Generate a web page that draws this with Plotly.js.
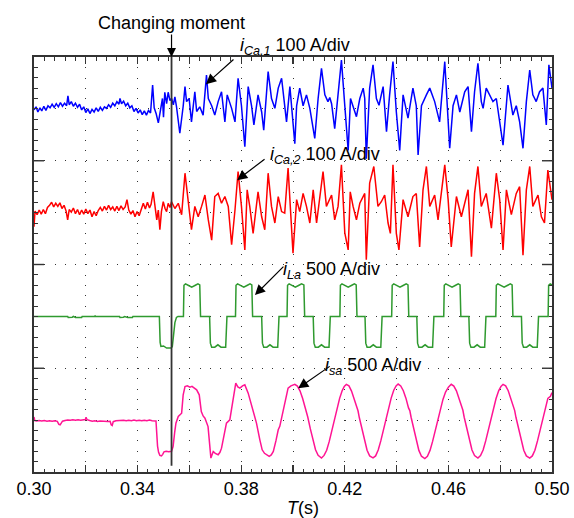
<!DOCTYPE html>
<html><head><meta charset="utf-8">
<script src="https://cdn.plot.ly/plotly-3.0.1.min.js"></script>
<style>html,body{margin:0;padding:0;background:#fff}</style>
</head><body><div id="chart" style="width:574px;height:518px"></div>
<script>
// ---- data (time in s, currents in A) ----
const tChange = 0.3531;

const tCa1 = [0.3000,0.3008,0.3015,0.3023,0.3030,0.3038,0.3046,0.3054,0.3062,0.3070,0.3078,0.3086,0.3094,0.3102,0.3110,0.3118,0.3126,0.3131,0.3136,0.3144,0.3152,0.3160,0.3168,0.3176,0.3184,0.3192,0.3200,0.3208,0.3216,0.3224,0.3232,0.3240,0.3248,0.3256,0.3264,0.3272,0.3280,0.3288,0.3296,0.3304,0.3312,0.3320,0.3328,0.3332,0.3338,0.3346,0.3354,0.3362,0.3370,0.3378,0.3386,0.3394,0.3402,0.3410,0.3418,0.3426,0.3434,0.3442,0.3450,0.3458,0.3464,0.3472,0.3480,0.3488,0.3496,0.3500,0.3505,0.3512,0.3518,0.3525,0.3531,
0.3538,0.3544,0.3550,0.3563,0.3576,0.3583,0.3589,0.3599,0.3608,0.3621,0.3628,0.3640,0.3653,0.3666,0.3673,0.3686,0.3698,0.3711,0.3724,0.3737,0.3746,0.3763,0.3776,0.3788,0.3801,0.3814,0.3827,0.3840,0.3849,0.3865,0.3879,0.3887,0.3904,0.3917,0.3930,0.3943,0.3956,0.3968,0.3975,0.3988,0.4007,0.4014,0.4026,0.4039,0.4052,0.4065,0.4084,0.4097,0.4110,0.4123,0.4135,0.4142,0.4149,0.4161,0.4174,0.4187,0.4200,0.4213,0.4222,0.4232,0.4245,0.4258,0.4271,0.4277,0.4283,0.4296,0.4309,0.4322,0.4332,0.4348,0.4361,0.4373,0.4386,0.4399,0.4412,0.4425,0.4444,0.4463,0.4476,0.4483,0.4496,0.4515,0.4528,0.4547,0.4566,0.4586,0.4599,0.4605,0.4618,0.4631,0.4644,0.4663,0.4676,0.4689,0.4701,0.4714,0.4727,0.4734,0.4746,0.4759,0.4772,0.4785,0.4811,0.4830,0.4849,0.4862,0.4875,0.4888,0.4901,0.4914,0.4926,0.4939,0.4952,0.4965,0.4978,0.4988,0.5000];
const iCa1 = [-2,4,-6,2,-4,5,-3,6,2,9,3,10,4,12,5,11,6,25,8,14,5,11,3,9,-2,4,-7,0,-9,-1,-6,2,-5,3,-3,4,1,8,3,11,6,14,9,20,10,15,6,11,2,6,-5,1,-8,-2,-11,-4,-12,-3,-8,46,2,-10,-27,0,20,-16,32,10,32,16,20,
8,23,5,-47,5,43,14,20,-25,33,-5,4,-12,65,20,6,-12,14,33,-25,27,1,-25,59,6,-73,43,6,-31,27,-6,-41,72,20,1,40,59,1,-25,43,-67,6,40,6,27,1,-57,20,78,27,14,22,10,-38,27,94,6,-80,20,6,-15,20,40,20,-96,40,85,20,7,43,-44,27,91,-6,-80,27,-18,40,6,-89,6,27,40,14,-25,91,-12,-76,6,27,-6,33,43,-44,33,88,14,1,40,27,14,20,-70,46,-12,6,-25,-76,14,75,27,14,33,40,-31,85,40];

const tCa2 = [0.3000,0.3004,0.3012,0.3020,0.3028,0.3036,0.3044,0.3052,0.3060,0.3068,0.3076,0.3084,0.3092,0.3100,0.3108,0.3116,0.3124,0.3130,0.3136,0.3144,0.3152,0.3160,0.3168,0.3176,0.3184,0.3192,0.3200,0.3208,0.3216,0.3224,0.3232,0.3240,0.3248,0.3256,0.3264,0.3272,0.3280,0.3288,0.3296,0.3304,0.3312,0.3320,0.3328,0.3336,0.3344,0.3352,0.3359,0.3366,0.3374,0.3382,0.3390,0.3398,0.3406,0.3414,0.3422,0.3430,0.3438,0.3446,0.3452,0.3460,0.3467,0.3474,0.3480,0.3486,0.3492,0.3499,0.3506,0.3512,0.3518,0.3525,0.3531,
0.3544,0.3557,0.3570,0.3583,0.3595,0.3608,0.3621,0.3634,0.3647,0.3660,0.3673,0.3686,0.3698,0.3711,0.3724,0.3737,0.3750,0.3763,0.3776,0.3788,0.3801,0.3814,0.3823,0.3833,0.3846,0.3865,0.3879,0.3891,0.3904,0.3917,0.3930,0.3943,0.3956,0.3968,0.3981,0.3994,0.4000,0.4014,0.4026,0.4039,0.4052,0.4065,0.4078,0.4091,0.4103,0.4116,0.4129,0.4149,0.4161,0.4174,0.4187,0.4200,0.4213,0.4221,0.4232,0.4245,0.4258,0.4277,0.4283,0.4296,0.4312,0.4328,0.4341,0.4354,0.4367,0.4376,0.4386,0.4399,0.4409,0.4425,0.4444,0.4463,0.4476,0.4489,0.4502,0.4515,0.4528,0.4547,0.4560,0.4586,0.4599,0.4611,0.4631,0.4650,0.4676,0.4689,0.4701,0.4714,0.4727,0.4746,0.4766,0.4785,0.4798,0.4811,0.4824,0.4843,0.4862,0.4875,0.4888,0.4901,0.4914,0.4926,0.4946,0.4959,0.4971,0.4984,0.5000];
const iCa2 = [-27,3,-4,5,-3,6,-2,10,14,20,11,18,12,19,8,14,3,-14,6,1,9,-2,6,-4,5,-3,7,-2,5,-8,2,-6,4,10,3,12,5,14,6,11,3,12,4,13,6,11,25,5,-3,4,-8,2,-6,5,18,7,20,9,16,40,8,-14,5,-33,2,21,8,2,18,10,21,
8,18,-4,76,25,-33,12,-8,12,34,-14,-53,31,37,18,31,12,-62,5,79,12,-72,44,12,-40,40,-8,-33,76,12,-20,31,2,-1,86,-20,-78,25,2,37,12,-20,44,-20,31,79,12,34,-14,12,92,-39,-72,40,12,-14,18,37,-91,57,89,12,21,34,-20,-40,92,-40,-72,25,-8,31,37,-66,44,89,12,34,-14,92,25,-66,31,-8,44,-85,37,89,12,37,-30,76,25,-72,44,-4,37,50,-82,44,89,12,34,-8,-20,82,25];

const tLa = [0.3000,0.3130,0.3132,0.3148,0.3152,0.3160,0.3184,0.3186,0.3235,0.3236,0.3238,0.3330,0.3332,0.3345,0.3350,0.3362,0.3380,0.3382,0.3484,0.3487,0.3490,0.3500,0.3506,0.3512,0.3530,0.3534,0.3538,0.3544,0.3550,0.3556,0.3575,
0.3577,0.3579,0.3585,0.3595,0.3609,0.3623,0.3633,0.3640,0.3643,0.3678,0.3681,0.3686,0.3698,0.3710,0.3722,0.3740,0.3745,
0.3778,0.3780,0.3786,0.3796,0.3810,0.3824,0.3834,0.3841,0.3844,0.3879,0.3882,0.3887,0.3899,0.3911,0.3923,0.3941,0.3946,
0.3977,0.3979,0.3985,0.3995,0.4009,0.4023,0.4033,0.4042,0.4045,0.4078,0.4081,0.4086,0.4098,0.4110,0.4122,0.4139,0.4144,
0.4181,0.4183,0.4189,0.4199,0.4213,0.4227,0.4237,0.4244,0.4247,0.4278,0.4281,0.4286,0.4298,0.4310,0.4322,0.4339,0.4344,
0.4381,0.4383,0.4389,0.4399,0.4413,0.4427,0.4437,0.4444,0.4447,0.4478,0.4481,0.4486,0.4498,0.4510,0.4522,0.4539,0.4544,
0.4582,0.4584,0.4590,0.4600,0.4614,0.4628,0.4638,0.4645,0.4648,0.4679,0.4682,0.4687,0.4699,0.4711,0.4723,0.4740,0.4745,
0.4783,0.4785,0.4791,0.4801,0.4815,0.4829,0.4839,0.4846,0.4849,0.4882,0.4885,0.4890,0.4902,0.4914,0.4926,0.4943,0.4948,
0.4985,0.4987,0.4993,0.5000];
const iLa = [0,0,-10,-8,0,-10,-10,0,0,8,0,0,-10,-8,-2,-10,-10,0,0,-250,-290,-285,-300,-305,-305,-290,-200,-60,-10,0,0,
0,300,313,300,281,300,313,303,0,0,-258,-297,-297,-274,-297,-297,0,
0,300,313,300,281,300,313,303,0,0,-258,-297,-297,-274,-297,-297,0,
0,300,313,300,281,300,313,303,0,0,-258,-297,-297,-274,-297,-297,0,
0,300,313,300,281,300,313,303,0,0,-258,-297,-297,-274,-297,-297,0,
0,300,313,300,281,300,313,303,0,0,-258,-297,-297,-274,-297,-297,0,
0,300,313,300,281,300,313,303,0,0,-258,-297,-297,-274,-297,-297,0,
0,300,313,300,281,300,313,303,0,0,-258,-297,-297,-274,-297,-297,0,
0,300,313,305];

const tSa = [0.3000,0.3003,0.3010,0.3020,0.3030,0.3040,0.3050,0.3060,0.3070,0.3080,0.3090,0.3096,0.3101,0.3106,0.3110,0.3120,0.3130,0.3140,0.3150,0.3160,0.3170,0.3180,0.3190,0.3198,0.3201,0.3205,0.3215,0.3225,0.3235,0.3245,0.3255,0.3265,0.3275,0.3285,0.3294,0.3298,0.3302,0.3306,0.3316,0.3326,0.3336,0.3346,0.3356,0.3366,0.3376,0.3386,0.3396,0.3406,0.3416,0.3426,0.3436,0.3446,0.3456,0.3466,0.3471,0.3477,0.3481,0.3486,0.3492,0.3497,0.3502,0.3510,0.3520,0.3531,
0.3537,0.3543,0.3548,0.3557,0.3564,0.3570,0.3576,0.3583,0.3592,0.3602,0.3610,0.3618,0.3628,0.3638,0.3646,0.3653,0.3660,0.3672,0.3679,0.3683,0.3692,0.3700,0.3711,0.3718,0.3724,0.3734,0.3743,0.3756,0.3763,0.3769,0.3779,0.3787,0.3795,0.3805,0.3814,0.3827,0.3836,0.3846,0.3859,0.3872,0.3881,0.3890,0.3898,0.3908,0.3916,0.3924,0.3934,0.3943,0.3949,0.3956,0.3962,0.3969,0.3975,0.3981,0.3992,
0.4007,0.4017,0.4027,0.4037,0.4047,0.4052,0.4057,0.4067,0.4077,0.4087,0.4097,0.4110,0.4120,0.4130,0.4140,0.4150,0.4160,0.4170,0.4180,0.4190,0.4198,
0.4206,0.4216,0.4226,0.4236,0.4246,0.4251,0.4256,0.4266,0.4276,0.4286,0.4296,0.4309,0.4319,0.4329,0.4339,0.4349,0.4359,0.4369,0.4379,0.4389,0.4398,
0.4406,0.4416,0.4426,0.4436,0.4446,0.4451,0.4456,0.4466,0.4476,0.4486,0.4496,0.4509,0.4519,0.4529,0.4539,0.4549,0.4559,0.4569,0.4579,0.4589,0.4600,
0.4611,0.4621,0.4631,0.4641,0.4651,0.4656,0.4661,0.4671,0.4681,0.4691,0.4701,0.4714,0.4724,0.4734,0.4744,0.4754,0.4764,0.4774,0.4784,0.4794,0.4803,
0.4811,0.4821,0.4831,0.4841,0.4851,0.4856,0.4861,0.4871,0.4881,0.4891,0.4901,0.4914,0.4924,0.4934,0.4944,0.4954,0.4964,0.4974,0.4984,0.4994,0.5000];
const iSa = [30,-5,-8,-3,-9,-4,-10,-5,-10,-6,-12,-40,-45,-30,-10,-3,2,-2,3,0,4,-1,3,5,28,4,-4,-10,-7,-12,-9,-13,-10,-14,-12,-45,-52,-15,-6,-3,-7,-2,-6,-1,-5,0,-6,-2,-7,-1,-5,0,-6,-3,-8,-250,-310,-340,-345,-330,-305,-300,-305,-300,
-254,-120,-29,35,50,67,244,324,330,318,325,310,292,244,83,40,19,-62,-286,-366,-302,-320,-334,-310,-270,-140,-29,3,120,227,356,320,308,330,340,260,180,99,-29,-190,-286,-320,-334,-350,-335,-302,-200,-93,-60,20,99,190,260,308,330,
345,328,282,210,118,95,30,-85,-195,-285,-340,-366,-340,-290,-205,-100,5,115,210,285,325,
345,330,280,208,120,90,25,-90,-200,-290,-345,-364,-345,-288,-200,-98,8,118,212,288,330,
348,330,283,212,118,92,28,-88,-198,-292,-348,-370,-348,-292,-205,-100,2,105,200,270,318,
345,328,282,210,120,95,28,-88,-198,-288,-342,-366,-342,-288,-200,-95,8,115,208,282,325,
345,330,283,210,118,92,25,-90,-200,-290,-345,-366,-345,-290,-200,-95,10,118,210,230,265];

const xTickVals = [0.30,0.32,0.34,0.36,0.38,0.40,0.42,0.44,0.46,0.48,0.50];
const xTickText = ['0.30','','0.34','','0.38','','0.42','','0.46','','0.50'];

// channel offsets (div) and scales (A/div)
const channels = [
  {t: tCa1, i: iCa1, offset: 7, scale: 100, color: '#0000ff'},
  {t: tCa2, i: iCa2, offset: 5, scale: 100, color: '#ff0000'},
  {t: tLa,  i: iLa,  offset: 3, scale: 500, color: '#2f9a2f'},
  {t: tSa,  i: iSa,  offset: 1, scale: 500, color: '#ff1493'}
];

const traces = channels.map(c => ({
  type: 'scatter', mode: 'lines', x: c.t,
  y: c.i.map(v => c.offset + v / c.scale),
  line: {color: c.color, width: 1.5}, hoverinfo: 'skip'
}));

const ink = '#333333';
const dotted = '1px,9.36px';
const fnt = {family: 'Liberation Sans, Arial, sans-serif', size: 18, color: '#000'};

const arrowCommon = {xref: 'x', yref: 'y', showarrow: true, arrowhead: 2, arrowsize: 1.7, arrowwidth: 1.2, arrowcolor: '#000', text: '', font: {size: 1}};

const layout = {
  width: 574, height: 518,
  margin: {l: 34, r: 22, t: 57, b: 46},
  paper_bgcolor: '#fff', plot_bgcolor: '#fff',
  showlegend: false, font: fnt,
  xaxis: {
    range: [0.30, 0.50], tickmode: 'array', tickvals: xTickVals, ticktext: xTickText,
    ticks: 'inside', ticklen: 7, tickwidth: 1.2, tickcolor: ink,
    showline: true, linecolor: ink, linewidth: 1.6, mirror: 'ticks',
    showgrid: true, gridcolor: ink, gridwidth: 1, griddash: dotted,
    zeroline: false, tickfont: fnt,
    minor: {tickmode: 'linear', tick0: 0.30, dtick: 0.004, ticks: 'inside', ticklen: 3.5, tickwidth: 1, tickcolor: ink, showgrid: false}
  },
  yaxis: {
    range: [0, 8], tickmode: 'array', tickvals: [0,1,2,3,4,5,6,7,8], showticklabels: false,
    ticks: 'inside', ticklen: 3.5, tickwidth: 1, tickcolor: ink,
    showline: true, linecolor: ink, linewidth: 1.6, mirror: 'ticks',
    showgrid: true, gridcolor: ink, gridwidth: 1, griddash: dotted,
    zeroline: false,
    minor: {tickmode: 'linear', tick0: 0, dtick: 0.2, ticks: 'inside', ticklen: 3.5, tickwidth: 1, tickcolor: ink, showgrid: false}
  },
  shapes: [
    {type: 'line', xref: 'x', yref: 'y', x0: tChange, x1: tChange, y0: 0.12, y1: 8, line: {color: ink, width: 1.8}},
  ].concat([2,4,6].map(v => ({type: 'line', xref: 'paper', yref: 'y', xsizemode: 'pixel', xanchor: 0, x0: 0, x1: 10, y0: v, y1: v, line: {color: ink, width: 1.4}})))
   .concat([2,4,6].map(v => ({type: 'line', xref: 'paper', yref: 'y', xsizemode: 'pixel', xanchor: 1, x0: -10, x1: 0, y0: v, y1: v, line: {color: ink, width: 1.4}}))),
  annotations: [
    {text: 'Changing moment', x: tChange, y: 8, xref: 'x', yref: 'y', showarrow: true, ax: 0, ay: -34, arrowhead: 2, arrowsize: 1.5, arrowwidth: 1.2, arrowcolor: '#000', font: fnt},
    {text: '<i>i</i><sub><i>Ca,1</i></sub> 100 A/div', x: 0.3787, y: 1.026, xref: 'x', yref: 'paper', xanchor: 'left', yanchor: 'middle', showarrow: false, font: fnt},
    {text: '<i>i</i><sub><i>Ca,2</i></sub> 100 A/div', x: 0.3903, y: 0.7635, xref: 'x', yref: 'paper', xanchor: 'left', yanchor: 'middle', showarrow: false, font: fnt},
    {text: '<i>i</i><sub><i>La</i></sub> 500 A/div', x: 0.3953, y: 0.4865, xref: 'x', yref: 'paper', xanchor: 'left', yanchor: 'middle', showarrow: false, font: fnt},
    {text: '<i>i</i><sub><i>sa</i></sub> 500 A/div', x: 0.4116, y: 0.2553, xref: 'x', yref: 'paper', xanchor: 'left', yanchor: 'middle', showarrow: false, font: fnt},
    Object.assign({x: 0.3664, y: 7.476, ax: 29, ay: -26}, arrowCommon),
    Object.assign({x: 0.3784, y: 5.626, ax: 29, ay: -22}, arrowCommon),
    Object.assign({x: 0.3853, y: 3.41, ax: 30, ay: -30}, arrowCommon),
    Object.assign({x: 0.4020, y: 1.613, ax: 33, ay: -23}, arrowCommon),
    {text: '<i>T</i>(s)', x: 0.4038, y: -0.087, xref: 'x', yref: 'paper', xanchor: 'center', yanchor: 'middle', showarrow: false, font: fnt}
  ]
};

Plotly.newPlot('chart', traces, layout, {staticPlot: true, displayModeBar: false});
</script>
</body></html>
